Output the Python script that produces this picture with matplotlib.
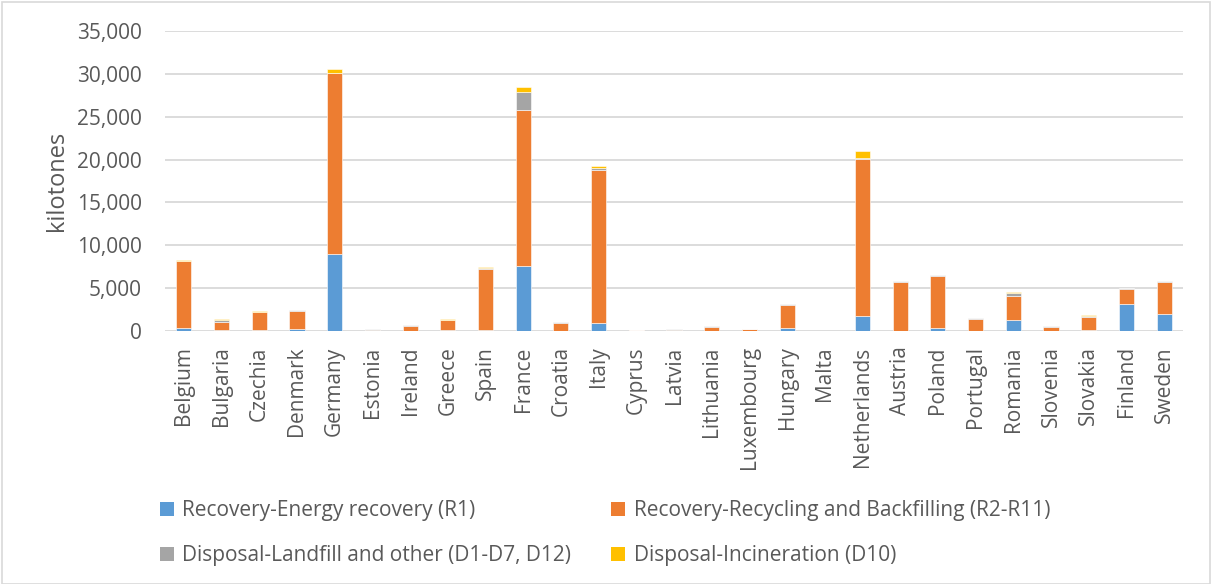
import matplotlib
matplotlib.use("Agg")
import matplotlib.pyplot as plt
from matplotlib.patches import Patch, Rectangle
from matplotlib.ticker import FuncFormatter
import numpy as np

countries = ["Belgium", "Bulgaria", "Czechia", "Denmark", "Germany", "Estonia",
             "Ireland", "Greece", "Spain", "France", "Croatia", "Italy", "Cyprus",
             "Latvia", "Lithuania", "Luxembourg", "Hungary", "Malta", "Netherlands",
             "Austria", "Poland", "Portugal", "Romania", "Slovenia", "Slovakia",
             "Finland", "Sweden"]

# kilotonnes per treatment type
energy_recovery = [350, 160, 100, 200, 9040, 10, 20, 150, 150, 7640, 50, 900, 10,
                   40, 20, 10, 390, 5, 1750, 30, 310, 30, 1290, 30, 150, 3160, 1990]
recycling_backfilling = [7790, 930, 2080, 2100, 21050, 120, 600, 1100, 7060, 18200,
                         850, 17920, 100, 130, 450, 230, 2610, 15, 18320, 5650, 6120,
                         1330, 2800, 440, 1450, 1750, 3780]
landfill_other = [40, 230, 50, 100, 60, 80, 50, 80, 130, 2060, 150, 240, 50, 100,
                  150, 40, 100, 5, 60, 120, 100, 150, 310, 100, 180, 120, 50]
incineration = [100, 120, 150, 90, 400, 5, 10, 110, 100, 590, 20, 150, 5, 5, 10,
                10, 80, 20, 860, 20, 60, 50, 120, 50, 50, 40, 60]

series = [
    ("Recovery-Energy recovery (R1)", energy_recovery, "#5b9bd5"),
    ("Recovery-Recycling and Backfilling (R2-R11)", recycling_backfilling, "#ed7d31"),
    ("Disposal-Landfill and other (D1-D7, D12)", landfill_other, "#a5a5a5"),
    ("Disposal-Incineration (D10)", incineration, "#ffc000"),
]

plt.rcParams["font.family"] = ["Open Sans", "DejaVu Sans"]
text_color = "#595959"
grid_color = "#d9d9d9"

fig = plt.figure(figsize=(12.12, 5.84), dpi=100)
ax = fig.add_axes([165 / 1212, 1 - 331 / 584, (1183 - 165) / 1212, 300 / 584])

x = np.arange(len(countries))
bottom = np.zeros(len(countries))
handles = []
for label, values, color in series:
    vals = np.array(values, dtype=float)
    ax.bar(x, vals, width=0.4, bottom=bottom, color=color,
           edgecolor="white", linewidth=0.4, zorder=3)
    bottom += vals
    handles.append(Patch(facecolor=color, edgecolor="none", label=label))

ax.set_xlim(-0.5, len(countries) - 0.5)
ax.set_ylim(0, 35000)
ax.set_yticks(np.arange(0, 35001, 5000))
ax.yaxis.set_major_formatter(FuncFormatter(lambda v, p: f"{int(v):,}"))
ax.set_xticks(x)
ax.set_xticklabels(countries, rotation=90)
ax.tick_params(axis="both", length=0, labelsize=15, colors=text_color)
ax.tick_params(axis="y", pad=16.5)
ax.tick_params(axis="x", pad=11)
ax.grid(axis="y", color=grid_color, linewidth=1.3, zorder=0)
for s in ax.spines.values():
    s.set_visible(False)

ax.set_ylabel("kilotones", fontsize=17, color=text_color, labelpad=6)

# legend laid out row by row: two entries per row
order = [0, 2, 1, 3]
fig.legend(handles=[handles[i] for i in order], ncol=2, loc="upper left",
           bbox_to_anchor=(160 / 1212, 1 - 500 / 584), frameon=False,
           fontsize=15, labelcolor=text_color, handlelength=0.68,
           handleheight=0.68, handletextpad=0.4, columnspacing=1.9,
           labelspacing=1.15, borderaxespad=0, borderpad=0)

fig.patches.append(Rectangle((2 / 1212, 0), 1 - 4 / 1212, 1 - 2 / 584,
                             transform=fig.transFigure, fill=False,
                             edgecolor=grid_color, linewidth=1.2))

fig.savefig("out.png", dpi=100)
